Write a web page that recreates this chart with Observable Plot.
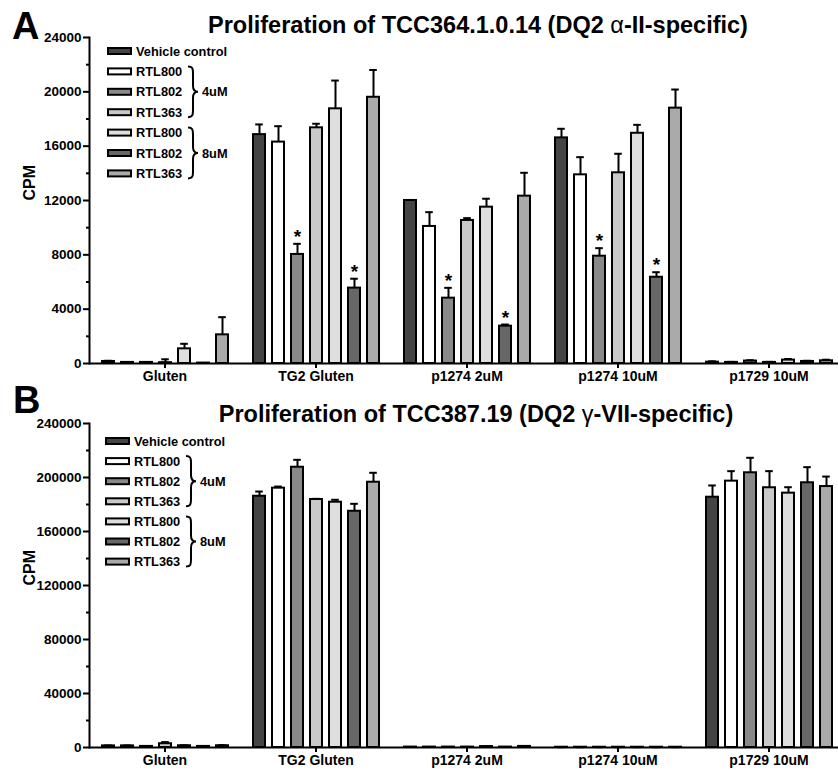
<!DOCTYPE html>
<html>
<head>
<meta charset="utf-8">
<script src="https://cdn.jsdelivr.net/npm/d3@7"></script>
<script src="https://cdn.jsdelivr.net/npm/@observablehq/plot@0.6"></script>
<style>
  html, body { margin: 0; padding: 0; background: #fff; overflow: hidden; }
  #fig { position: relative; width: 838px; height: 771px; overflow: hidden; background: #fff; }
  .panel { position: absolute; left: 0; width: 838px; }
  #overlay { position: absolute; left: 0; top: 0; pointer-events: none; }
</style>
</head>
<body>
<div id="fig">
  <div class="panel" id="panelA" style="top:0"></div>
  <div class="panel" id="panelB" style="top:385px"></div>
</div>
<script>
// ---------- data ----------
const groups = ["Gluten", "TG2 Gluten", "p1274 2uM", "p1274 10uM", "p1729 10uM"];
const series = ["Vehicle control", "RTL800 4uM", "RTL802 4uM", "RTL363 4uM", "RTL800 8uM", "RTL802 8uM", "RTL363 8uM"];
const legendLabels = ["Vehicle control", "RTL800", "RTL802", "RTL363", "RTL800", "RTL802", "RTL363"];
const doseLabels = ["4uM", "8uM"];
const seriesColors = ["#444444", "#ffffff", "#898989", "#c9c9c9", "#dedede", "#676767", "#aaaaaa"];

// Panel A: TCC364.1.0.14 (rows = groups, columns = series)
const titleA = ["Proliferation of TCC364.1.0.14 (DQ2 ", "α", "-II-specific)"];
const meanA = [
  [150, 80, 80, 60, 1080, 30, 2110],
  [16850, 16300, 8030, 17350, 18750, 5550, 19600],
  [12000, 10090, 4810, 10530, 11510, 2750, 12320],
  [16610, 13890, 7900, 14040, 16950, 6350, 18800],
  [100, 80, 180, 80, 250, 150, 200]
];
const errA = [
  [50, 20, 20, 250, 370, 10, 1300],
  [750, 1170, 780, 300, 2080, 690, 2010],
  [40, 1050, 760, 170, 620, 120, 1720],
  [670, 1300, 590, 1400, 620, 370, 1370],
  [60, 40, 60, 40, 80, 50, 80]
];
const sigA = [
  [0, 0, 0, 0, 0, 0, 0],
  [0, 0, 1, 0, 0, 1, 0],
  [0, 0, 1, 0, 0, 1, 0],
  [0, 0, 1, 0, 0, 1, 0],
  [0, 0, 0, 0, 0, 0, 0]
];
const yMaxA = 24000, yMajorA = 4000, yMinorA = 2000;

// Panel B: TCC387.19
const titleB = ["Proliferation of TCC387.19 (DQ2 ", "γ", "-VII-specific)"];
const meanB = [
  [1200, 1200, 800, 2800, 1300, 800, 1300],
  [186100, 192100, 207600, 183700, 181700, 175000, 196500],
  [300, 300, 300, 300, 700, 300, 800],
  [200, 200, 200, 200, 200, 200, 200],
  [185400, 197300, 203500, 192400, 188400, 196100, 193300]
];
const errB = [
  [300, 300, 300, 1200, 300, 300, 400],
  [3500, 1200, 5500, 500, 1800, 5500, 7000],
  [100, 100, 100, 100, 200, 100, 200],
  [50, 50, 50, 50, 50, 50, 50],
  [8700, 7400, 11100, 12300, 4400, 11550, 7400]
];
const sigB = meanB.map(r => r.map(() => 0));
const yMaxB = 240000, yMajorB = 40000, yMinorB = 20000;

// ---------- drawing ----------
const FONT = "'Liberation Sans', Arial, Helvetica, sans-serif";

function rowsOf(mean, err, sig) {
  return groups.flatMap((g, i) => series.map((s, j) => ({
    group: g, series: s, value: mean[i][j], err: err[i][j], sig: !!sig[i][j]
  })));
}

function panel({mean, err, sig, yMax, yMajor, yMinor, height, marginTop, marginBottom}) {
  const rows = rowsOf(mean, err, sig);
  const hi = d => d.value + d.err;
  return Plot.plot({
    width: 838,
    height,
    marginTop,
    marginBottom,
    marginLeft: 89,
    marginRight: 0,
    style: {fontFamily: FONT, fontSize: "13px", fontWeight: "bold", color: "black", background: "white"},
    fx: {domain: groups, range: [89, 844], paddingInner: 0, paddingOuter: 0, label: null},
    x: {domain: series, paddingInner: 0.37, paddingOuter: 0.5, axis: null},
    y: {domain: [0, yMax]},
    color: {domain: series, range: seriesColors},
    marks: [
      Plot.ruleX(rows, {fx: "group", x: "series", y1: "value", y2: hi, stroke: "black", strokeWidth: 2}),
      Plot.tickY(rows, {fx: "group", x: "series", y: hi, stroke: "black", strokeWidth: 2, insetLeft: 2.2, insetRight: 2.2}),
      Plot.barY(rows, {fx: "group", x: "series", y: "value", fill: "series", stroke: "black", strokeWidth: 2}),
      Plot.text(rows.filter(d => d.sig), {fx: "group", x: "series", y: hi, text: () => "*", fontSize: 19, lineAnchor: "bottom", dy: -1}),
      Plot.ruleY([0], {stroke: "black", strokeWidth: 2}),
      Plot.frame({anchor: "left", facetAnchor: "left", stroke: "black", strokeWidth: 2}),
      Plot.axisY(d3.range(0, yMax + 1, yMajor), {anchor: "left", tickSize: 6, tickPadding: 2, strokeWidth: 2, fontSize: 13.5, tickFormat: d3.format("d"), label: null}),
      Plot.axisY(d3.range(yMinor, yMax, yMajor), {anchor: "left", tickSize: 3, strokeWidth: 2, fill: "none", label: null}),
      Plot.axisFx({anchor: "bottom", tickSize: 5, tickPadding: 3, strokeWidth: 2, fontSize: 14, label: null}),
      Plot.text(["CPM"], {frameAnchor: "left", facetAnchor: "left", text: d => d, rotate: -90, dx: -60, fontSize: 16})
    ]
  });
}

document.getElementById("panelA").append(panel({
  mean: meanA, err: errA, sig: sigA, yMax: yMaxA, yMajor: yMajorA, yMinor: yMinorA,
  height: 385, marginTop: 37, marginBottom: 22
}));
document.getElementById("panelB").append(panel({
  mean: meanB, err: errB, sig: sigB, yMax: yMaxB, yMajor: yMajorB, yMinor: yMinorB,
  height: 386, marginTop: 38, marginBottom: 24
}));

// ---------- overlay: panel letters, titles, legends ----------
const svg = d3.select("#fig").append("svg")
  .attr("id", "overlay").attr("width", 838).attr("height", 771)
  .style("font-family", FONT).style("font-weight", "bold");

function title(parts, x, y) {
  const t = svg.append("text").attr("x", x).attr("y", y).attr("text-anchor", "middle")
    .attr("font-size", 23.5);
  t.append("tspan").text(parts[0]);
  t.append("tspan").attr("font-weight", "normal").text(parts[1]);
  t.append("tspan").text(parts[2]);
}

function brace(x, y0, y1, w) {
  const m = (y0 + y1) / 2, c = x + w * 0.5;
  return `M${x},${y0} C${x + w * 0.45},${y0} ${c},${y0 + 2} ${c},${y0 + 7} L${c},${m - 6} ` +
    `C${c},${m - 2} ${x + w * 0.7},${m} ${x + w},${m} C${x + w * 0.7},${m} ${c},${m + 2} ${c},${m + 6} ` +
    `L${c},${y1 - 7} C${c},${y1 - 2} ${x + w * 0.45},${y1} ${x},${y1}`;
}

function legend(x0, y0, step, textX, braceX) {
  legendLabels.forEach((lab, i) => {
    const cy = y0 + i * step;
    svg.append("rect").attr("x", x0).attr("y", cy - 3).attr("width", 23).attr("height", 6)
      .attr("fill", seriesColors[i]).attr("stroke", "black").attr("stroke-width", 2);
    svg.append("text").attr("x", textX).attr("y", cy + 4.6).attr("font-size", 12.8).text(lab);
  });
  doseLabels.forEach((lab, k) => {
    const top = y0 + (1 + 3 * k) * step - 5, bot = y0 + (3 + 3 * k) * step + 5;
    svg.append("path").attr("d", brace(braceX, top, bot, 10))
      .attr("fill", "none").attr("stroke", "black").attr("stroke-width", 2);
    svg.append("text").attr("x", braceX + 14).attr("y", (top + bot) / 2 + 4.6)
      .attr("font-size", 12.8).text(lab);
  });
}

svg.append("text").attr("x", 12).attr("y", 39).attr("font-size", 38).text("A");
title(titleA, 478, 33);
legend(108, 51, 20.4, 136, 188);

svg.append("text").attr("x", 13).attr("y", 413).attr("font-size", 38).text("B");
title(titleB, 476, 422);
legend(106, 441, 20.1, 134, 186);
</script>
</body>
</html>
